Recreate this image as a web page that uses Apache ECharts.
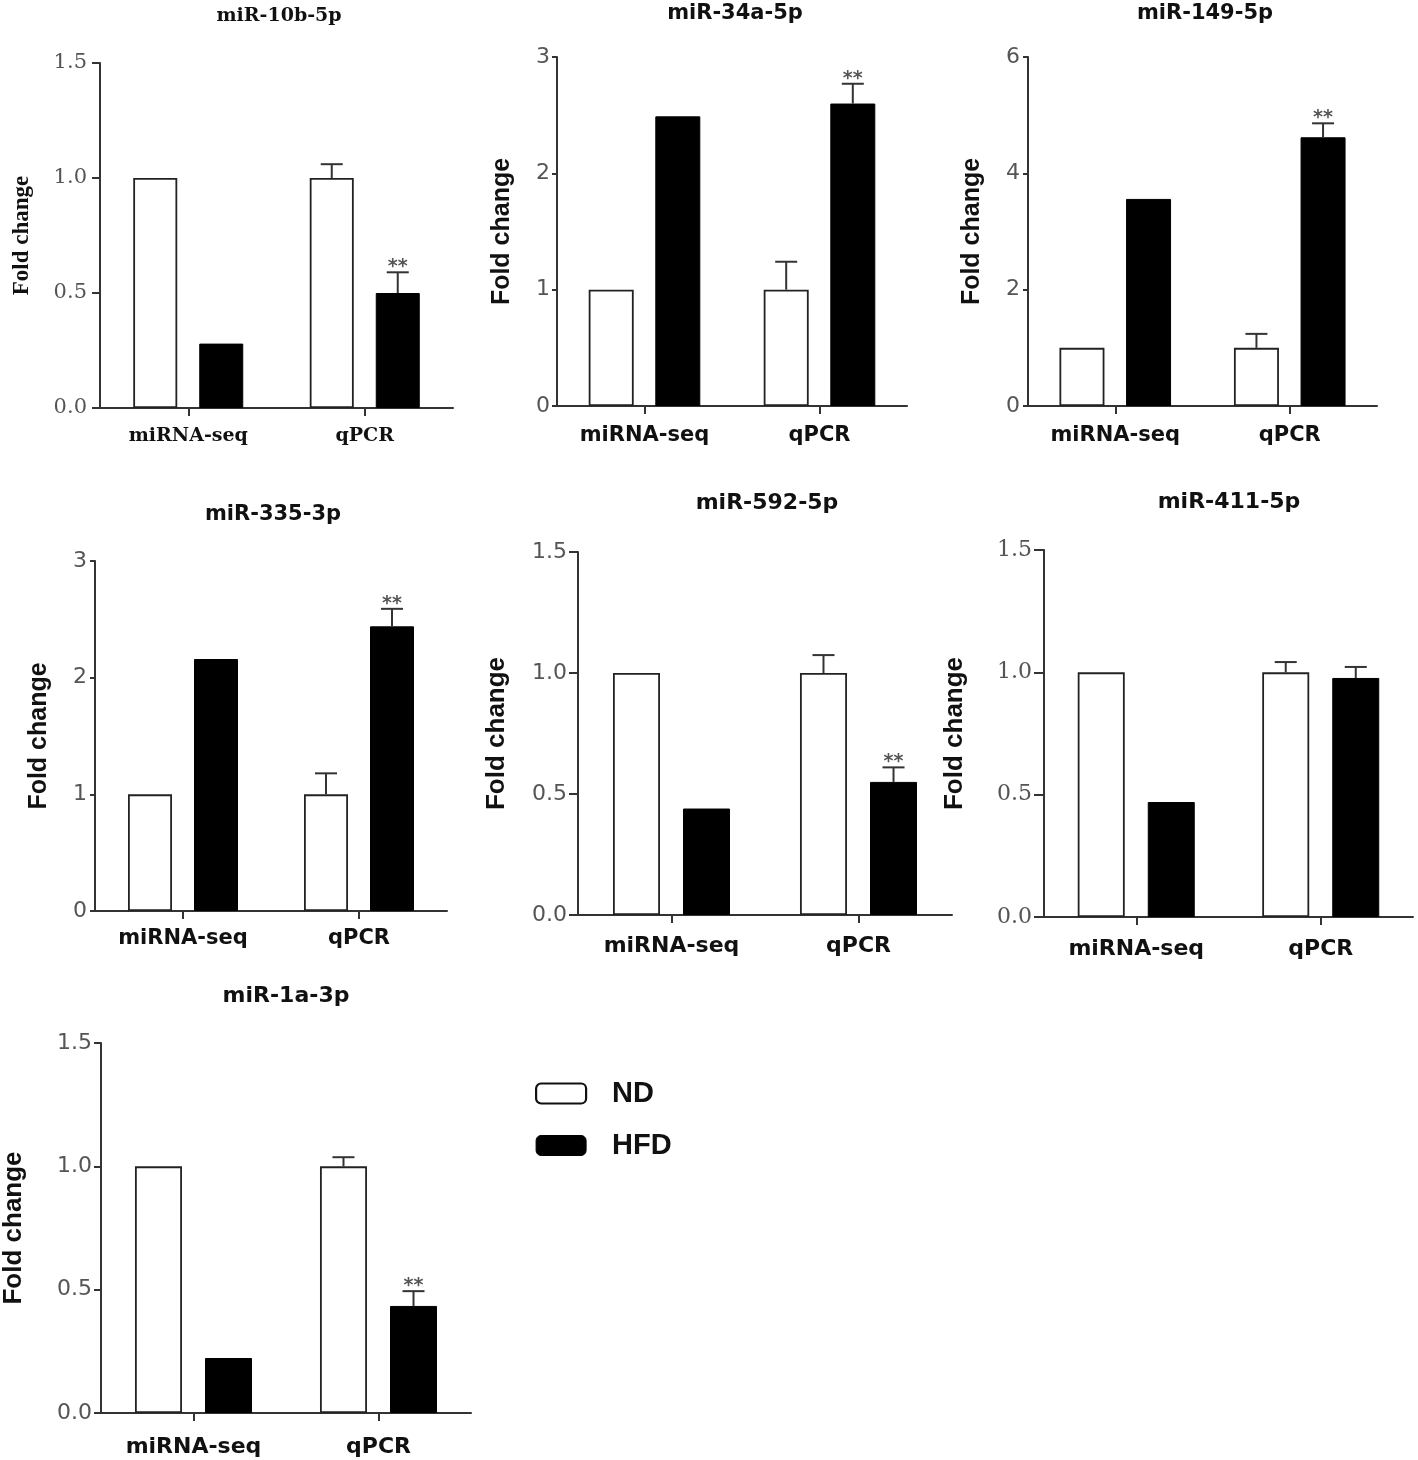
<!DOCTYPE html>
<html><head><meta charset="utf-8">
<script src="https://cdn.jsdelivr.net/npm/echarts@6/dist/echarts.min.js"></script>
<style>html,body{margin:0;padding:0;background:#fff}#c{width:1418px;height:1460px}</style>
</head><body><div id="c"></div>
<script>
// ---------------- data ----------------
const panelTitles = ['miR-10b-5p', 'miR-34a-5p', 'miR-149-5p', 'miR-335-3p', 'miR-592-5p', 'miR-411-5p', 'miR-1a-3p'];
const categories = ['miRNA-seq', 'qPCR'];
const seriesNames = ['ND', 'HFD'];
const yAxisTitle = 'Fold change';
const ndSeq = [1, 1, 1, 1, 1, 1, 1];
const ndQpcr = [1, 1, 1, 1, 1, 1, 1];
const ndQpcrErr = [0.06, 0.24, 0.24, 0.18, 0.074, 0.042, 0.037];
const hfdSeq = [0.28, 2.49, 3.56, 2.16, 0.44, 0.47, 0.223];
const hfdQpcr = [0.50, 2.60, 4.62, 2.44, 0.55, 0.977, 0.434];
const hfdQpcrErr = [0.09, 0.17, 0.24, 0.15, 0.06, 0.045, 0.06];
const sigMarks = ['**', '**', '**', '**', '**', '', '**'];
const yMax = [1.5, 3, 6, 3, 1.5, 1.5, 1.5];
const yStep = [0.5, 1, 2, 1, 0.5, 0.5, 0.5];
const yDecimals = [1, 0, 0, 0, 1, 1, 1];

// ---------------- layout / style ----------------
const SANS = 'DejaVu Sans', SERIF = 'DejaVu Serif';
const layout = [
  {grid: [100, 63, 353, 345], bw: 44, gap: 0.50, title: [279, 16], tf: SERIF, tickF: SERIF, xf: SERIF, nf: 'Liberation Serif', tickLen: 8, tickMargin: 13, xMargin: 19, nameGap: 66, fs: {title: 19, tick: 21, x: 19, name: 23}},
  {grid: [557, 57, 350, 349], bw: 45, gap: 0.48, title: [735, 14], tf: SANS, tickF: SANS, xf: SANS, nf: 'Liberation Sans', tickLen: 5, tickMargin: 7, xMargin: 19, nameGap: 42, fs: {title: 21, tick: 22, x: 21, name: 25}},
  {grid: [1028, 57, 349, 349], bw: 45, gap: 0.48, title: [1205, 14], tf: SANS, tickF: SANS, xf: SANS, nf: 'Liberation Sans', tickLen: 5, tickMargin: 8, xMargin: 19, nameGap: 43, fs: {title: 21, tick: 22, x: 21, name: 25}},
  {grid: [95, 561, 352, 350], bw: 44, gap: 0.50, title: [273, 515], tf: SANS, tickF: SANS, xf: SANS, nf: 'Liberation Sans', tickLen: 5, tickMargin: 8, xMargin: 17, nameGap: 43, fs: {title: 21, tick: 22, x: 21, name: 25}},
  {grid: [578, 552, 374, 363], bw: 47, gap: 0.49, title: [767, 503], tf: SANS, tickF: SANS, xf: SANS, nf: 'Liberation Sans', tickLen: 9, tickMargin: 11, xMargin: 20, nameGap: 68, fs: {title: 22, tick: 22, x: 22, name: 26}},
  {grid: [1044, 550, 369, 367], bw: 47, gap: 0.49, title: [1229, 502], tf: SANS, tickF: SERIF, xf: SANS, nf: 'Liberation Sans', tickLen: 10, tickMargin: 12, xMargin: 21, nameGap: 76, fs: {title: 22, tick: 22, x: 22, name: 26}},
  {grid: [97, 1043, 374, 370], bw: 47, gap: 0.49, title: [286, 996], tf: SANS, tickF: SANS, xf: SANS, nf: 'Liberation Sans', tickLen: 7, tickMargin: 9, xMargin: 23, nameGap: 74, fs: {title: 22, tick: 22, x: 22, name: 26}}
];
const AXIS = '#333';

const option = {
  animation: false,
  backgroundColor: '#fff',
  title: [], grid: [], xAxis: [], yAxis: [], series: [],
  legend: {
    orient: 'vertical', left: 535, top: 1079, padding: 0,
    itemWidth: 50, itemHeight: 20, itemGap: 23, icon: 'roundRect',
    data: [
      {name: seriesNames[0], itemStyle: {color: '#fff', borderColor: '#111', borderWidth: 2.2}},
      {name: seriesNames[1], itemStyle: {color: '#000', borderColor: '#000', borderWidth: 1}}
    ],
    textStyle: {fontFamily: 'Liberation Sans', fontWeight: 'bold', fontSize: 29, color: '#111', lineHeight: 20, padding: [0, 0, 0, 21]}
  }
};

function errRender(bw, gapFrac, sign) {
  return function (params, api) {
    const cat = api.value(0), mean = api.value(1), err = api.value(2);
    const base = api.coord([cat, mean]);
    const top = api.coord([cat, mean + err]);
    const x = base[0] + sign * (bw * (1 + gapFrac)) / 2;
    const cap = 11;
    const children = [
      {type: 'line', shape: {x1: x, y1: base[1], x2: x, y2: top[1]}, style: {stroke: AXIS, lineWidth: 2}},
      {type: 'line', shape: {x1: x - cap, y1: top[1], x2: x + cap, y2: top[1]}, style: {stroke: AXIS, lineWidth: 2}}
    ];
    const mark = sign > 0 ? sigMarks[api.value(3)] : '';
    if (mark) {
      children.push({type: 'text', x: x, y: top[1] - 5, style: {text: mark, fill: '#555', font: 'bold 19px "DejaVu Sans"', align: 'center', verticalAlign: 'middle'}});
    }
    return {type: 'group', children};
  };
}

panelTitles.forEach((t, i) => {
  const L = layout[i];
  option.title.push({
    text: t, left: L.title[0], top: L.title[1], textAlign: 'center', textVerticalAlign: 'middle', padding: 0,
    textStyle: {fontFamily: L.tf, fontWeight: 'bold', fontSize: L.fs.title, color: '#111'}
  });
  option.grid.push({left: L.grid[0], top: L.grid[1], width: L.grid[2], height: L.grid[3]});
  option.xAxis.push({
    type: 'category', gridIndex: i, data: categories,
    axisLine: {show: true, lineStyle: {color: AXIS, width: 2}},
    axisTick: {show: true, alignWithLabel: true, length: 8, lineStyle: {color: AXIS, width: 2}},
    axisLabel: {margin: L.xMargin, fontFamily: L.xf, fontWeight: 'bold', fontSize: L.fs.x, color: '#111'},
    splitLine: {show: false}
  });
  option.yAxis.push({
    type: 'value', gridIndex: i, min: 0, max: yMax[i], interval: yStep[i],
    name: yAxisTitle, nameLocation: 'middle', nameRotate: 90, nameGap: L.nameGap,
    nameTextStyle: {fontFamily: L.nf, fontWeight: 'bold', fontSize: L.fs.name, color: '#111'},
    axisLine: {show: true, lineStyle: {color: AXIS, width: 2}},
    axisTick: {show: true, length: L.tickLen, lineStyle: {color: AXIS, width: 2}},
    axisLabel: {margin: L.tickMargin, fontFamily: L.tickF, fontSize: L.fs.tick, color: '#555',
      formatter: v => v.toFixed(yDecimals[i])},
    splitLine: {show: false}
  });
  option.series.push({
    type: 'bar', name: seriesNames[0], xAxisIndex: i, yAxisIndex: i,
    data: [ndSeq[i], ndQpcr[i]], barWidth: L.bw, barGap: (L.gap * 100) + '%',
    itemStyle: {color: '#fff', borderColor: '#222', borderWidth: 1.8}
  });
  option.series.push({
    type: 'bar', name: seriesNames[1], xAxisIndex: i, yAxisIndex: i,
    data: [hfdSeq[i], hfdQpcr[i]], barWidth: L.bw, barGap: (L.gap * 100) + '%',
    itemStyle: {color: '#000', borderColor: '#000', borderWidth: 1}
  });
  option.series.push({
    type: 'custom', xAxisIndex: i, yAxisIndex: i, z: 5, clip: false, silent: true,
    renderItem: errRender(L.bw, L.gap, -1),
    data: [[1, ndQpcr[i], ndQpcrErr[i], i]]
  });
  option.series.push({
    type: 'custom', xAxisIndex: i, yAxisIndex: i, z: 5, clip: false, silent: true,
    renderItem: errRender(L.bw, L.gap, 1),
    data: [[1, hfdQpcr[i], hfdQpcrErr[i], i]]
  });
});

const chart = echarts.init(document.getElementById('c'), null, {renderer: 'canvas'});
chart.setOption(option);
</script>
</body></html>
